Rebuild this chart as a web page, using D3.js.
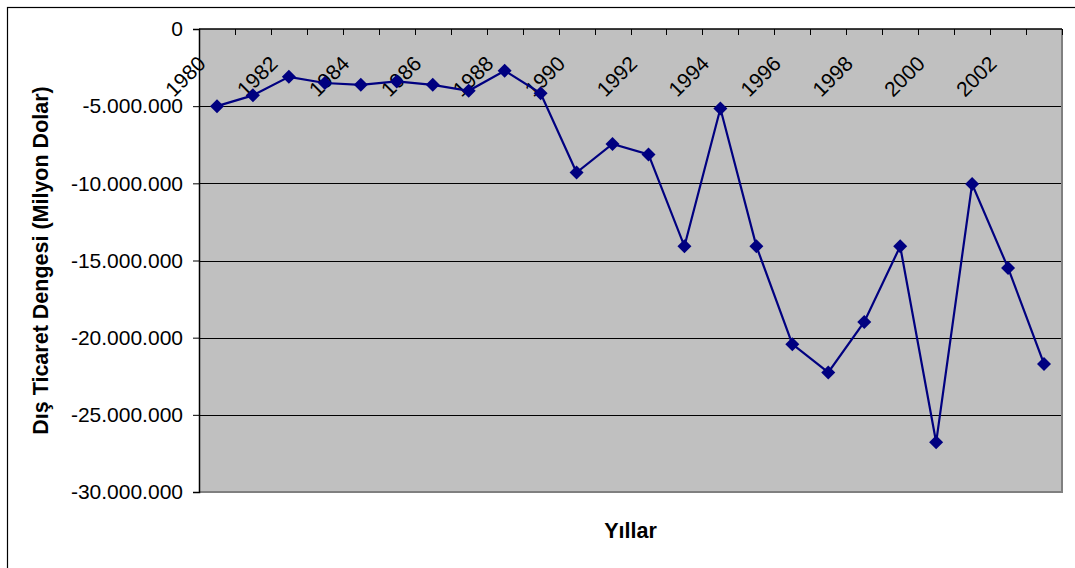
<!DOCTYPE html>
<html>
<head>
<meta charset="utf-8">
<script src="https://d3js.org/d3.v7.min.js"></script>
<style>
  body { margin: 0; background: #fff; }
  svg { display: block; font-family: Arial, "Liberation Sans", sans-serif; }
</style>
</head>
<body>
<div id="chart"></div>
<script>
// yillar ve dis ticaret dengesi
let years = [1980, 1981, 1982, 1983, 1984, 1985, 1986, 1987, 1988, 1989, 1990, 1991,
    1992, 1993, 1994, 1995, 1996, 1997, 1998, 1999, 2000, 2001, 2002, 2003];
let balance = [-5000000, -4300000, -3100000, -3500000, -3620000, -3400000, -3620000, -4000000,
    -2700000, -4170000, -9300000, -7450000, -8130000, -14080000, -5150000, -14070000,
    -20420000, -22250000, -18980000, -14080000, -26780000, -10050000, -15480000, -21700000];
let yTicks = [0, -5000000, -10000000, -15000000, -20000000, -25000000, -30000000];
let labelYears = [1980, 1982, 1984, 1986, 1988, 1990, 1992, 1994, 1996, 1998, 2000, 2002];

let width = 1075,
    height = 568;

let plot = {left: 199, top: 29, right: 1062, bottom: 492};

let svg = d3.select("#chart")
    .append("svg")
    .attr("width", width)
    .attr("height", height);

// chart area border
svg.append("rect")
    .attr("x", 7.5).attr("y", 7.5)
    .attr("width", width).attr("height", height)
    .attr("fill", "#fff")
    .attr("stroke", "#000")
    .attr("stroke-width", 1.2);

let x = d3.scaleBand()
    .domain(years)
    .range([plot.left, plot.right]);

let y = d3.scaleLinear()
    .domain([-30000000, 0])
    .range([plot.bottom, plot.top]);

let fmt = d3.formatLocale({decimal: ",", thousands: ".", grouping: [3], currency: ["", ""], minus: "-"}).format(",d");

// plot area
svg.append("rect")
    .attr("x", plot.left).attr("y", plot.top)
    .attr("width", plot.right - plot.left)
    .attr("height", plot.bottom - plot.top)
    .attr("fill", "#c0c0c0");

// gridlines
svg.append("g")
    .selectAll("line")
    .data(yTicks.filter(d => d !== 0 && d !== -30000000))
    .enter().append("line")
    .attr("x1", plot.left).attr("x2", plot.right)
    .attr("y1", d => Math.round(y(d)) + 0.5).attr("y2", d => Math.round(y(d)) + 0.5)
    .attr("stroke", "#000")
    .attr("stroke-width", 1);

// plot border right / bottom (gray)
svg.append("path")
    .attr("d", "M" + plot.right + "," + plot.top + "V" + plot.bottom + "H" + plot.left)
    .attr("fill", "none")
    .attr("stroke", "#808080")
    .attr("stroke-width", 2);

// y axis
let yAxis = d3.axisLeft(y)
    .tickValues(yTicks)
    .tickSize(6)
    .tickPadding(10)
    .tickFormat(fmt);

let gy = svg.append("g")
    .attr("transform", "translate(" + plot.left + ",0)")
    .call(yAxis);
gy.select(".domain").attr("stroke", "#000").attr("stroke-width", 1.5);
gy.selectAll(".tick line").attr("stroke", "#000");
gy.selectAll("text")
    .attr("font-size", 21)
    .attr("font-family", "Arial, 'Liberation Sans', sans-serif")
    .attr("fill", "#000");

// x axis (at value 0, top), ticks between categories
let boundaries = years.map(d => x(d)).concat([plot.right]);
svg.append("line")
    .attr("x1", plot.left).attr("x2", plot.right)
    .attr("y1", y(0)).attr("y2", y(0))
    .attr("stroke", "#000")
    .attr("stroke-width", 1.5);
svg.append("g")
    .selectAll("line")
    .data(boundaries)
    .enter().append("line")
    .attr("x1", d => Math.round(d) + 0.5).attr("x2", d => Math.round(d) + 0.5)
    .attr("y1", y(0)).attr("y2", y(0) + 6)
    .attr("stroke", "#000")
    .attr("stroke-width", 1);

// rotated year labels
svg.append("g")
    .selectAll("text")
    .data(labelYears)
    .enter().append("text")
    .attr("transform", d => "translate(" + (x(d) + x.bandwidth() / 2 - 10) + ",65) rotate(-45)")
    .attr("text-anchor", "end")
    .attr("font-size", 21)
    .attr("fill", "#000")
    .text(d => d);

// line + markers
let line = d3.line()
    .x((d, i) => x(years[i]) + x.bandwidth() / 2)
    .y(d => y(d));

svg.append("path")
    .datum(balance)
    .attr("d", line)
    .attr("fill", "none")
    .attr("stroke", "#000080")
    .attr("stroke-width", 2.2);

let diamond = d3.symbol().type(d3.symbolSquare).size(98);
svg.append("g")
    .selectAll("path")
    .data(balance)
    .enter().append("path")
    .attr("d", diamond)
    .attr("transform", (d, i) => "translate(" + (x(years[i]) + x.bandwidth() / 2) + "," + y(d) + ") rotate(45)")
    .attr("fill", "#000080");

// axis titles
svg.append("text")
    .attr("transform", "translate(48," + ((plot.top + plot.bottom) / 2) + ") rotate(-90)")
    .attr("text-anchor", "middle")
    .attr("font-size", 21.5)
    .attr("font-weight", "bold")
    .text("Dış Ticaret Dengesi (Milyon Dolar)");

svg.append("text")
    .attr("x", (plot.left + plot.right) / 2)
    .attr("y", 538)
    .attr("text-anchor", "middle")
    .attr("font-size", 21.5)
    .attr("font-weight", "bold")
    .text("Yıllar");
</script>
</body>
</html>
